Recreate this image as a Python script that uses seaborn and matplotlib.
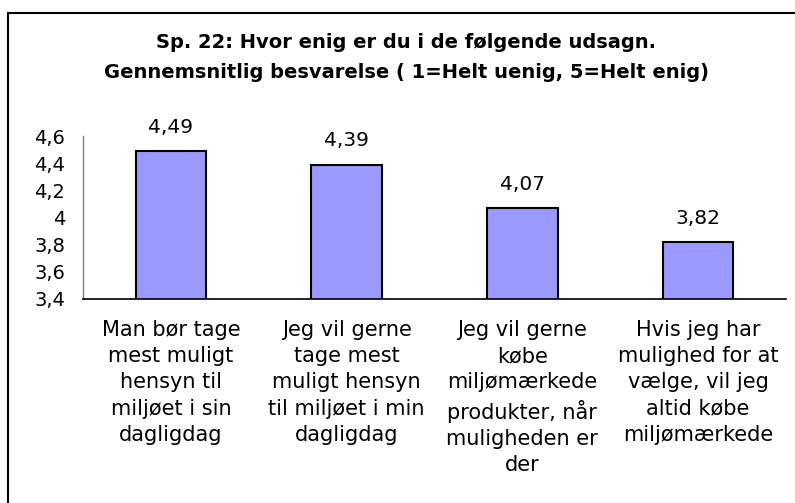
import matplotlib
matplotlib.use("Agg")
import matplotlib.pyplot as plt
import seaborn as sns
import pandas as pd
from matplotlib.patches import Rectangle
from matplotlib.ticker import FixedLocator

categories = [
    "Man bør tage\nmest muligt\nhensyn til\nmiljøet i sin\ndagligdag",
    "Jeg vil gerne\ntage mest\nmuligt hensyn\ntil miljøet i min\ndagligdag",
    "Jeg vil gerne\nkøbe\nmiljømærkede\nprodukter, når\nmuligheden er\nder",
    "Hvis jeg har\nmulighed for at\nvælge, vil jeg\naltid købe\nmiljømærkede",
]
values = [4.49, 4.39, 4.07, 3.82]
value_labels = ["4,49", "4,39", "4,07", "3,82"]
yticks = [3.4, 3.6, 3.8, 4.0, 4.2, 4.4, 4.6]
ytick_labels = ["3,4", "3,6", "3,8", "4", "4,2", "4,4", "4,6"]
title_lines = ["Sp. 22: Hvor enig er du i de følgende udsagn.",
               "Gennemsnitlig besvarelse ( 1=Helt uenig, 5=Helt enig)"]

sns.set_style("white")
plt.rcParams["font.family"] = ["DejaVu Sans"]
plt.rcParams["text.color"] = "black"
plt.rcParams["xtick.labelcolor"] = "black"
plt.rcParams["ytick.labelcolor"] = "black"

W, H = 795, 503
fig = plt.figure(figsize=(W / 100, H / 100), dpi=100)
fig.patch.set_facecolor("white")

# outer frame (extends past right/bottom edges)
fig.patches.append(Rectangle((8 / W, -0.1), 1.2, 1 - 13 / H + 0.1,
                             transform=fig.transFigure, fill=False,
                             edgecolor="black", linewidth=1.5))

left, right, top, bottom = 83, 786, 136, 299
ax = fig.add_axes([left / W, 1 - bottom / H, (right - left) / W, (bottom - top) / H])

df = pd.DataFrame({"cat": categories, "val": values})
sns.barplot(data=df, x="cat", y="val", ax=ax, color="#9999FF", saturation=1,
            width=0.4, edgecolor="black", linewidth=1.5)

ax.set_ylim(3.4, 4.6)
ax.set_xlim(-0.5, 3.5)
ax.set_yticks(yticks)
ax.set_yticklabels(ytick_labels, fontsize=14, color="black")
ax.set_xlabel("")
ax.set_ylabel("")
ax.tick_params(axis="x", which="major", length=0, labelsize=15, pad=15, labelcolor="black")
ax.xaxis.set_minor_locator(FixedLocator([-0.5, 0.5, 1.5, 2.5, 3.5]))
ax.tick_params(axis="x", which="minor", length=5, color="#808080", width=1, direction="out")
ax.tick_params(axis="y", length=5, color="#808080", width=1, direction="out", pad=8)
for lbl in ax.get_xticklabels():
    lbl.set_linespacing(1.39)

for s in ["top", "right"]:
    ax.spines[s].set_visible(False)
ax.spines["left"].set_color("#808080")
ax.spines["left"].set_linewidth(1)
ax.spines["bottom"].set_color("black")
ax.spines["bottom"].set_linewidth(1.2)

for i, (v, lab) in enumerate(zip(values, value_labels)):
    ax.annotate(lab, (i, v), xytext=(0, 13), textcoords="offset points",
                ha="center", va="baseline", fontsize=14.5, color="black")

fig.text(406 / W, 1 - 42 / H, title_lines[0], ha="center", va="center",
         fontsize=14, fontweight="bold", color="black")
fig.text(406 / W, 1 - 73 / H, title_lines[1], ha="center", va="center",
         fontsize=14, fontweight="bold", color="black")

fig.savefig("out.png", dpi=100)
